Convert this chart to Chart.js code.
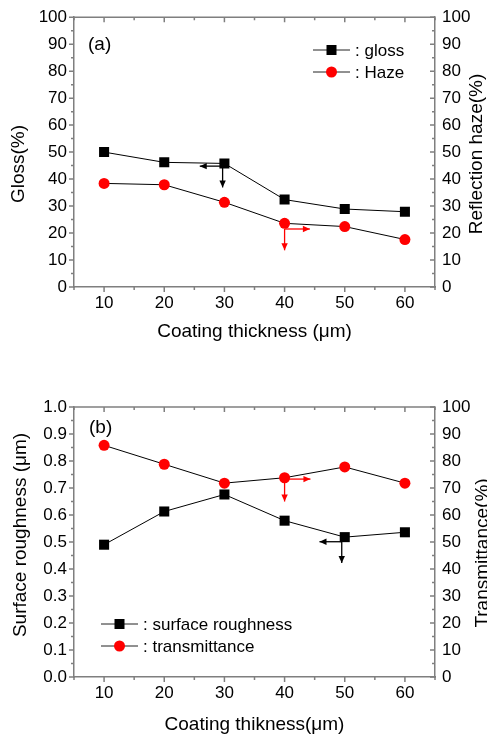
<!DOCTYPE html>
<html>
<head>
<meta charset="utf-8">
<script src="https://cdn.jsdelivr.net/npm/chart.js@4.4.1/dist/chart.umd.min.js"></script>
<style>
body{margin:0;background:#fff;width:487px;height:737px;overflow:hidden;position:relative}
canvas{position:absolute;left:0}
#chartA{top:0}
#chartB{top:352px}
</style>
</head>
<body>
<canvas id="chartA" width="487" height="352"></canvas>
<canvas id="chartB" width="487" height="385"></canvas>
<script>
// data
const thickness = [10, 20, 30, 40, 50, 60];
const xTicks = [10, 20, 30, 40, 50, 60];
const pctTicks = [0, 10, 20, 30, 40, 50, 60, 70, 80, 90, 100];
const roughTicks = [0, 0.1, 0.2, 0.3, 0.4, 0.5, 0.6, 0.7, 0.8, 0.9, 1.0];

const glossVals = [50.0, 46.2, 45.8, 32.4, 28.9, 27.9];
const hazeVals = [38.4, 37.9, 31.4, 23.6, 22.4, 17.6];
const roughVals = [0.490, 0.613, 0.676, 0.579, 0.518, 0.536];
const transVals = [85.8, 78.8, 71.8, 73.8, 77.8, 71.8];

// arrows: start point, horizontal end x, vertical end y (data units)
const arrowsA = [
    {axis: 'y', x: 29.7, y: 44.8, hx: 25.9, vy: 36.9, color: '#000'},
    {axis: 'y1', x: 40, y: 21.5, hx: 44.2, vy: 13.6, color: '#f00'}
];
const arrowsB = [
    {axis: 'y1', x: 40, y: 73.3, hx: 44.3, vy: 65.0, color: '#f00'},
    {axis: 'y', x: 49.5, y: 0.501, hx: 45.8, vy: 0.422, color: '#000'}
];

const GRAY = '#7f7f7f';
const FONT = '"Liberation Sans", Arial, sans-serif';
Chart.defaults.font.family = FONT;
Chart.defaults.color = '#000';

function pts(ys) {
    return thickness.map((x, i) => ({x: x, y: ys[i]}));
}

function drawArrow(ctx, x0, y0, x1, y1) {
    ctx.beginPath()
    ctx.moveTo(x0, y0)
    ctx.lineTo(x1, y1)
    ctx.stroke()
    let ang = Math.atan2(y1 - y0, x1 - x0), h = 7, w = 3.2
    let c = Math.cos(ang), s = Math.sin(ang)
    ctx.beginPath()
    ctx.moveTo(x1, y1)
    ctx.lineTo(x1 - h * c + w * s, y1 - h * s - w * c)
    ctx.lineTo(x1 - h * c - w * s, y1 - h * s + w * c)
    ctx.closePath()
    ctx.fill()
}

function tickValues(scale) {
    let major = scale.ticks.map(t => t.value)
    let step = major[1] - major[0]
    let minor = []
    for (let i = 0; i <= major.length; i++) {
        let v = (i < major.length ? major[i] : major[i - 1] + step) - step / 2
        if (v >= scale.min - 1e-9 && v <= scale.max + 1e-9) minor.push(v)
    }
    return {major, minor}
}

// frame, tick marks, arrows, legend, panel label, y titles
const deco = {
    id: 'deco',
    afterDraw(chart, args, o) {
        const ctx = chart.ctx, a = chart.chartArea
        const sx = chart.scales.x, yl = chart.scales.y, yr = chart.scales.y1
        ctx.save()
        ctx.strokeStyle = GRAY
        ctx.lineWidth = 1.5
        ctx.beginPath()
        ctx.moveTo(a.left, a.top)
        ctx.lineTo(a.right, a.top)
        ctx.stroke()

        ctx.beginPath()
        let t = tickValues(sx)
        t.major.forEach(v => {
            let p = sx.getPixelForValue(v)
            ctx.moveTo(p, a.bottom); ctx.lineTo(p, a.bottom + 5)
            ctx.moveTo(p, a.top); ctx.lineTo(p, a.top + 5)
        })
        t.minor.forEach(v => {
            let p = sx.getPixelForValue(v)
            ctx.moveTo(p, a.bottom); ctx.lineTo(p, a.bottom + 3)
            ctx.moveTo(p, a.top); ctx.lineTo(p, a.top + 3)
        })
        t = tickValues(yl)
        t.major.forEach(v => {
            let p = yl.getPixelForValue(v)
            ctx.moveTo(a.left, p); ctx.lineTo(a.left - 5, p)
        })
        t.minor.forEach(v => {
            let p = yl.getPixelForValue(v)
            ctx.moveTo(a.left, p); ctx.lineTo(a.left - 3, p)
        })
        t = tickValues(yr)
        t.major.forEach(v => {
            let p = yr.getPixelForValue(v)
            ctx.moveTo(a.right, p); ctx.lineTo(a.right - 5, p)
        })
        t.minor.forEach(v => {
            let p = yr.getPixelForValue(v)
            ctx.moveTo(a.right, p); ctx.lineTo(a.right - 3, p)
        })
        ctx.stroke()

        // arrows
        ctx.lineWidth = 1.3
        o.arrows.forEach(ar => {
            let ys = chart.scales[ar.axis]
            let x0 = sx.getPixelForValue(ar.x), y0 = ys.getPixelForValue(ar.y)
            ctx.strokeStyle = ar.color
            ctx.fillStyle = ar.color
            drawArrow(ctx, x0, y0, sx.getPixelForValue(ar.hx), y0)
            drawArrow(ctx, x0, y0, x0, ys.getPixelForValue(ar.vy))
        })

        // legend
        ctx.font = '17px ' + FONT
        ctx.textBaseline = 'middle'
        ctx.textAlign = 'left'
        chart.data.datasets.forEach((ds, i) => {
            let y = o.legend.y + i * 22
            let x = o.legend.x
            ctx.strokeStyle = '#222'
            ctx.lineWidth = 1
            ctx.beginPath()
            ctx.moveTo(x, y); ctx.lineTo(x + 37, y)
            ctx.stroke()
            ctx.fillStyle = ds.pointBackgroundColor
            ctx.beginPath()
            if (ds.pointStyle == 'rect') ctx.rect(x + 13.5, y - 5, 10, 10)
            else ctx.arc(x + 18.5, y, 5.5, 0, Math.PI * 2)
            ctx.fill()
            ctx.fillStyle = '#000'
            ctx.fillText(': ' + ds.label, x + 42, y + 1)
        })

        // panel label
        ctx.font = '19px ' + FONT
        ctx.fillText(o.panel, o.panelX, o.panelY)

        // y titles, both read bottom to top
        o.titles.forEach(tt => {
            ctx.save()
            ctx.translate(tt.x, tt.y)
            ctx.rotate(-Math.PI / 2)
            ctx.textAlign = 'center'
            ctx.fillText(tt.text, 0, 0)
            ctx.restore()
        })
        ctx.restore()
    }
}

function makeChart(id, c) {
    return new Chart(document.getElementById(id), {
        type: 'line',
        data: {
            datasets: [{
                label: c.names[0],
                data: pts(c.left),
                yAxisID: 'y',
                borderColor: '#000',
                borderWidth: 1,
                pointStyle: 'rect',
                pointRadius: 7.1,
                pointBackgroundColor: '#000',
                pointBorderWidth: 0
            }, {
                label: c.names[1],
                data: pts(c.right),
                yAxisID: 'y1',
                borderColor: '#000',
                borderWidth: 1,
                pointStyle: 'circle',
                pointRadius: 5.5,
                pointBackgroundColor: '#f00',
                pointBorderWidth: 0
            }]
        },
        options: {
            responsive: false,
            animation: false,
            devicePixelRatio: 1,
            layout: {padding: {top: c.top}},
            plugins: {
                legend: {display: false},
                tooltip: {enabled: false},
                deco: c.deco
            },
            scales: {
                x: {
                    type: 'linear', min: 5, max: 65,
                    afterBuildTicks: s => { s.ticks = xTicks.map(v => ({value: v})) },
                    afterFit: s => { s.height = c.xHeight },
                    grid: {display: false, drawTicks: false},
                    border: {color: GRAY, width: 1.5},
                    ticks: {padding: 6, font: {size: 17}},
                    title: {display: true, text: c.xTitle, font: {size: 19}, padding: {top: 0, bottom: c.xTitlePad}}
                },
                y: {
                    position: 'left', min: c.leftTicks[0], max: c.leftTicks[c.leftTicks.length - 1],
                    afterBuildTicks: s => { s.ticks = c.leftTicks.map(v => ({value: v})) },
                    afterFit: s => { s.width = 74 },
                    grid: {display: false, drawTicks: false},
                    border: {color: GRAY, width: 1.5},
                    ticks: {padding: 7, font: {size: 17}, callback: c.leftFmt}
                },
                y1: {
                    position: 'right', min: 0, max: 100,
                    afterBuildTicks: s => { s.ticks = pctTicks.map(v => ({value: v})) },
                    afterFit: s => { s.width = 52 },
                    grid: {display: false, drawTicks: false},
                    border: {color: GRAY, width: 1.5},
                    ticks: {padding: 7, font: {size: 17}}
                }
            }
        },
        plugins: [deco]
    })
}

makeChart('chartA', {
    names: ['gloss', 'Haze'],
    left: glossVals, right: hazeVals,
    leftTicks: pctTicks, leftFmt: v => v,
    top: 16, xHeight: 65, xTitlePad: 8.6,
    xTitle: 'Coating thickness (μm)',
    deco: {
        arrows: arrowsA,
        legend: {x: 313, y: 50},
        panel: '(a)', panelX: 88, panelY: 45,
        titles: [{text: 'Gloss(%)', x: 19, y: 164}, {text: 'Reflection haze(%)', x: 477, y: 154}]
    }
})

makeChart('chartB', {
    names: ['surface roughness', 'transmittance'],
    left: roughVals, right: transVals,
    leftTicks: roughTicks, leftFmt: v => v.toFixed(1),
    top: 55, xHeight: 60, xTitlePad: 0.6,
    xTitle: 'Coating thikness(μm)',
    deco: {
        arrows: arrowsB,
        legend: {x: 101, y: 272},
        panel: '(b)', panelX: 89, panelY: 76,
        titles: [{text: 'Surface roughness (μm)', x: 21, y: 183}, {text: 'Transmittance(%)', x: 483, y: 201}]
    }
})
</script>
</body>
</html>
